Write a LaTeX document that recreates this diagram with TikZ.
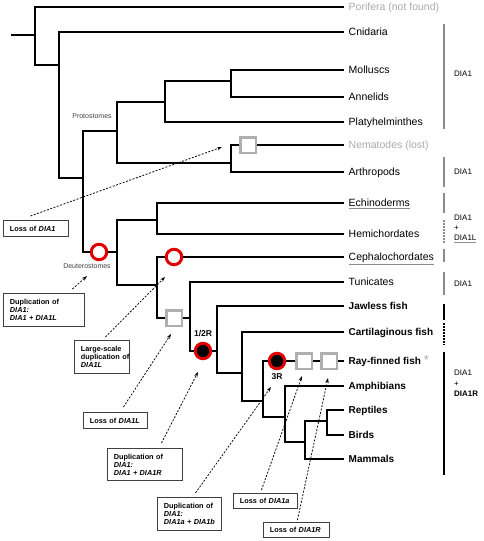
\documentclass[tikz,border=0pt]{standalone}
\usepackage{fontspec}
\setmainfont{Liberation Sans}
\usetikzlibrary{arrows.meta}
\definecolor{ringred}{RGB}{225,0,0}
\definecolor{sqgrey}{RGB}{175,175,175}
\definecolor{lblgrey}{RGB}{170,170,170}
\definecolor{brgrey}{RGB}{140,140,140}
\newcommand{\grul}[1]{{\color{brgrey}\underline{\color{black}#1}}}
\begin{document}
\begin{tikzpicture}[x=1pt,y=-1pt,
  br/.style={line width=2.8pt, line join=miter},
  tip/.style={anchor=west, inner xsep=4.5pt, inner ysep=0pt, text height=7.5pt, text depth=0pt, font=\fontsize{10.5}{12}\selectfont},
  tipb/.style={tip, text height=7.2pt, font=\fontsize{10}{12}\selectfont\bfseries},
  tipg/.style={tip, text=lblgrey},
  gsq/.style={draw=sqgrey, line width=2.5pt, fill=white, minimum size=15.5pt, inner sep=0pt},
  rring/.style={circle, draw=ringred, line width=3pt, fill=white, minimum size=15.5pt, inner sep=0pt},
  bring/.style={rring, fill=black},
  grbr/.style={draw=brgrey, line width=1.5pt},
  blbr/.style={draw=black, line width=2.5pt},
  dots/.style={dash pattern=on 1.5pt off 1.5pt},
  rlab/.style={anchor=west, inner sep=0pt, text height=5.7pt, text depth=0pt, font=\fontsize{8}{9}\selectfont},
  clade/.style={font=\fontsize{7}{8}\selectfont, text=black!75, inner sep=0pt},
  dup/.style={font=\fontsize{8.5}{10}\selectfont\bfseries, inner sep=0pt},
  cbox/.style={draw=black!75, line width=0.9pt, fill=white, anchor=north west, inner xsep=6.5pt, inner ysep=1pt, align=left, font=\fontsize{7.3}{8}\selectfont\bfseries},
  callout/.style={line width=0.75pt, dash pattern=on 2pt off 1.5pt, -{Stealth[length=5pt,width=3.5pt]}}
]
\useasboundingbox (0,0) rectangle (484,541);

% tip labels
\node[tipg] (por) at (344,7) {Porifera (not found)};
\node[tip] (cni) at (344,32) {Cnidaria};
\node[tip] (mol) at (344,70) {Molluscs};
\node[tip] (ann) at (344,97) {Annelids};
\node[tip] (pla) at (344,122) {Platyhelminthes};
\node[tipg] (nem) at (344,145) {Nematodes (lost)};
\node[tip] (art) at (344,172) {Arthropods};
\node[tip] (ech) at (344,203) {\grul{Echinoderms}};
\node[tip] (hem) at (344,234) {Hemichordates};
\node[tip] (cep) at (344,257) {\grul{Cephalochordates}};
\node[tip] (tun) at (344,282) {Tunicates};
\node[tipb] (jaw) at (344,306) {Jawless fish};
\node[tipb] (car) at (344,332) {Cartilaginous fish};
\node[tipb] (ray) at (344,361) {Ray-finned fish\hspace{3pt}\textcolor{lblgrey}{\raisebox{0.5pt}{\normalfont\fontsize{13}{13}\selectfont *}}};
\node[tipb] (amp) at (344,386) {Amphibians};
\node[tipb] (rep) at (344,410) {Reptiles};
\node[tipb] (bir) at (344,435) {Birds};
\node[tipb] (mam) at (344,459) {Mammals};

% markers
\node[gsq] (nsq) at (248,145) {};
\node[rring] (deut) at (99,252) {};
\node[rring] (ceph) at (174,257) {};
\node[gsq] (sqL) at (174,318) {};
\node[bring] (c12) at (203,351) {};
\node[bring] (c3) at (277,361) {};
\node[gsq] (sqA) at (304,361) {};
\node[gsq] (sqB) at (329,361) {};

% tree
\draw[br] (11,35) -- (35,35);
\draw[br] (por.west) -| (35,65) -- (59,65);
\draw[br] (cni.west) -| (59,178) -- (83,178);
\draw[br] (117,131) -| (83,252) -- (deut);
\draw[br] (165,102) -| (117,163) -- (231,163);
\draw[br] (231,81) -| (165,122) -- (pla.west);
\draw[br] (mol.west) -| (231,97) -- (ann.west);
\draw[br] (nsq.west) -| (231,172) -- (art.west);
\draw[br] (nsq.east) -- (nem.west);
\draw[br] (deut) -- (117,252);
\draw[br] (157,220) -| (117,285) -- (157,285);
\draw[br] (ech.west) -| (157,234) -- (hem.west);
\draw[br] (ceph.west) -| (157,318) -- (sqL);
\draw[br] (ceph.east) -- (cep.west);
\draw[br] (sqL.east) -- (190,318);
\draw[br] (tun.west) -| (190,351) -- (c12);
\draw[br] (c12.east) -- (217,351);
\draw[br] (jaw.west) -| (217,373) -- (242,373);
\draw[br] (car.west) -| (242,401) -- (263,401);
\draw[br] (c3.west) -| (263,417) -- (285,417);
\draw[br] (c3.east) -- (sqA.west);
\draw[br] (sqA.east) -- (sqB.west);
\draw[br] (sqB.east) -- (ray.west);
\draw[br] (amp.west) -| (285,442) -- (305,442);
\draw[br] (327,421) -| (305,459) -- (mam.west);
\draw[br] (rep.west) -| (327,435) -- (bir.west);

% clade labels
\node[clade] (pro) at (92,116) {Protostomes};
\node[clade] (deu) at (87,266) {Deuterostomes};
\node[dup] (l12) at (203,334) {1/2R};
\node[dup] (l3) at (277,377) {3R};

% right brackets
\draw[grbr] (444,24) -- (444,129);
\draw[grbr] (444,157) -- (444,187);
\draw[grbr] (444,193) -- (444,213);
\draw[grbr, dots] (444,220) -- (444,243);
\draw[grbr] (444,249) -- (444,262);
\draw[grbr] (444,272) -- (444,295);
\draw[blbr] (444,304) -- (444,320);
\draw[blbr, dots] (444,323) -- (444,345);
\draw[blbr] (444,352) -- (444,475);
\node[rlab] (r1) at (454,74) {DIA1};
\node[rlab] (r2) at (454,172) {DIA1};
\node[rlab] (r3a) at (454,218) {DIA1};
\node[rlab] (r3b) at (454,228) {+};
\node[rlab] (r3c) at (454,238) {\grul{DIA1L}};
\node[rlab] (r4) at (454,284) {DIA1};
\node[rlab] (r5a) at (454,373) {DIA1};
\node[rlab] (r5b) at (454,384) {+};
\node[rlab] (r5c) at (454,394) {\bfseries DIA1R};

% callout boxes
\node[cbox, text width=52pt, minimum height=16pt] (b1) at (3,220) {\mbox{Loss of \textit{DIA1}}};
\node[cbox, text width=68pt, minimum height=33pt] (b2) at (3,293) {\mbox{Duplication of}\\\mbox{\textit{DIA1:}}\\\mbox{\textit{DIA1 + DIA1L}}};
\node[cbox, text width=42pt, minimum height=33pt] (b3) at (74,340) {\mbox{Large-scale}\\\mbox{duplication of}\\\mbox{\textit{DIA1L}}};
\node[cbox, text width=51pt, minimum height=16pt] (b4) at (83,412) {\mbox{Loss of \textit{DIA1L}}};
\node[cbox, text width=62pt, minimum height=32pt] (b5) at (107,448) {\mbox{Duplication of}\\\mbox{\textit{DIA1:}}\\\mbox{\textit{DIA1 + DIA1R}}};
\node[cbox, text width=51pt, minimum height=33pt] (b6) at (157,497) {\mbox{Duplication of}\\\mbox{\textit{DIA1:}}\\\mbox{\textit{DIA1a + DIA1b}}};
\node[cbox, text width=51pt, minimum height=15pt] (b7) at (233,493) {\mbox{Loss of \textit{DIA1a}}};
\node[cbox, text width=53pt, minimum height=15pt] (b8) at (263,522) {\mbox{Loss of \textit{DIA1R}}};

% arrow targets
\coordinate (t1) at (222,147);
\coordinate (t2) at (87,276);
\coordinate (t3) at (165,277);
\coordinate (t4) at (171,334);
\coordinate (t5) at (198,372);
\coordinate (t6) at (271,387);
\coordinate (t7) at (302,376);
\coordinate (t8) at (328,378);

\draw[callout] ([xshift=-5.5pt,yshift=4pt]b1.north) -- (t1);
\draw[callout] ([xshift=28.5pt,yshift=4pt]b2.north) -- (t2);
\draw[callout] ([xshift=3.5pt,yshift=3pt]b3.north) -- (t3);
\draw[callout] ([xshift=8pt,yshift=5pt]b4.north) -- (t4);
\draw[callout] ([xshift=16.5pt,yshift=5pt]b5.north) -- (t5);
\draw[callout] ([xshift=6pt,yshift=4pt]b6.north) -- (t6);
\draw[callout] ([xshift=-4pt,yshift=3pt]b7.north) -- (t7);
\draw[callout] ([xshift=1pt,yshift=2pt]b8.north) -- (t8);
\end{tikzpicture}
\end{document}
